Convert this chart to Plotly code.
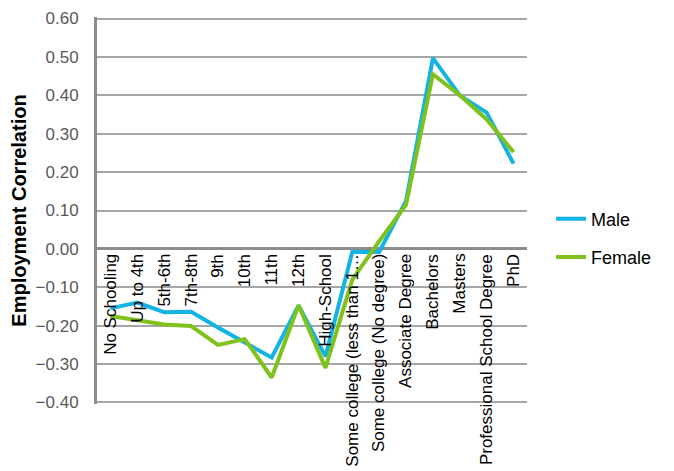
import plotly.graph_objects as go

categories = ["No Schooling", "Up to 4th", "5th-6th", "7th-8th", "9th", "10th", "11th", "12th",
              "High-School", "Some college (less than 1…", "Some college (No degree)",
              "Associate Degree", "Bachelors", "Masters", "Professional School Degree", "PhD"]
male = [-0.155, -0.14, -0.165, -0.164, -0.205, -0.245, -0.283, -0.147,
        -0.28, -0.008, -0.008, 0.125, 0.497, 0.40, 0.355, 0.222]
female = [-0.175, -0.185, -0.197, -0.201, -0.25, -0.235, -0.335, -0.147,
          -0.31, -0.08, 0.02, 0.115, 0.455, 0.40, 0.337, 0.252]
y_ticks = [-0.4, -0.3, -0.2, -0.1, 0.0, 0.1, 0.2, 0.3, 0.4, 0.5, 0.6]

fig = go.Figure()
fig.add_trace(go.Scatter(x=categories, y=male, name="Male", mode="lines",
                         line=dict(color="#13B3E3", width=4), legendgroup="m"))
fig.add_trace(go.Scatter(x=categories, y=female, name="Female", mode="lines",
                         line=dict(color="#7FC21B", width=4), legendgroup="f"))

# category labels sit just under the zero line, like the Excel original
for c in categories:
    fig.add_annotation(x=c, y=0, text=c, textangle=-90, showarrow=False,
                       xanchor="center", yanchor="top", yshift=-3,
                       font=dict(family="Liberation Sans, Arial", size=17, color="black"))

fig.update_layout(
    width=674, height=471,
    margin=dict(l=89, r=155, t=9, b=75),
    plot_bgcolor="white", paper_bgcolor="white",
    font=dict(family="Liberation Sans, Arial", color="#595959"),
    xaxis=dict(type="category", range=[-0.5, 15.5], showticklabels=False,
               showgrid=False, zeroline=False, showline=False, ticks="",
               automargin=False),
    # range padded a hair so the gridlines at 0.60 and -0.40 are kept
    yaxis=dict(range=[-0.404, 0.604], tickvals=y_ticks, tickformat=".2f",
               showgrid=True, gridcolor="#A6A6A6", gridwidth=1.5,
               zeroline=True, zerolinecolor="#8C8C8C", zerolinewidth=3,
               showline=True, linecolor="#8C8C8C", linewidth=3,
               tickfont=dict(size=17, color="#595959"), ticks="",
               ticklabelstandoff=12, ticklabeloverflow="allow", automargin=False,
               title=dict(text="<b>Employment Correlation</b>", standoff=8,
                          font=dict(size=20, color="black"))),
    legend=dict(x=1.056, y=0.526, xanchor="left", yanchor="top",
                font=dict(size=18, color="black"), tracegroupgap=12,
                traceorder="grouped", bgcolor="rgba(0,0,0,0)"),
)

fig.write_html("out.html")
